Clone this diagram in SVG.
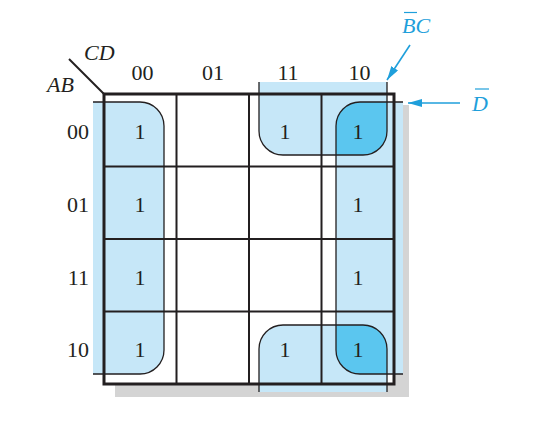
<svg xmlns="http://www.w3.org/2000/svg" width="537" height="421" viewBox="0 0 537 421">
  <style>
    .num { font-family: "Liberation Serif", "Times New Roman", serif; font-size: 22px; fill: #231f20; }
    .var { font-family: "Liberation Serif", "Times New Roman", serif; font-size: 22px; font-style: italic; fill: #231f20; }
    .blue { font-family: "Liberation Serif", "Times New Roman", serif; font-size: 22px; font-style: italic; fill: #1f9fdb; }
    .fill { fill: #c6e7f8; stroke: none; }
    .outline { fill: none; stroke: #231f20; stroke-width: 1.3; }
    .grid { stroke: #231f20; stroke-width: 2; }
    .border { fill: none; stroke: #231f20; stroke-width: 3; }
    .arrow { stroke: #1f9fdb; stroke-width: 1.6; fill: none; }
  </style>
  <defs>
    <marker id="ah" viewBox="0 0 14 8" refX="14" refY="4" markerWidth="14" markerHeight="8" markerUnits="userSpaceOnUse" orient="auto">
      <path d="M0 0 L14 4 L0 8 Z" fill="#1f9fdb"/>
    </marker>
    <path id="pLeft" d="M93 102 H140 A24 24 0 0 1 164 126 V350 A24 24 0 0 1 140 374 H93"/>
    <path id="pRight" d="M403 102 H360 A24 24 0 0 0 336 126 V350 A24 24 0 0 0 360 374 H403"/>
    <path id="pTop" d="M259 82 V131 A24 24 0 0 0 283 155 H363 A24 24 0 0 0 387 131 V82"/>
    <path id="pBot" d="M259 392 V349 A24 24 0 0 1 283 325 H363 A24 24 0 0 1 387 349 V392"/>
    <clipPath id="clipBC">
      <use href="#pTop"/>
      <use href="#pBot"/>
    </clipPath>
  </defs>

  <g id="shadow">
    <rect x="115" y="105" width="294" height="292" fill="#d4d4d4"/>
    <rect x="104" y="94" width="290" height="290" fill="#ffffff"/>
  </g>

  <g id="loop-Dbar-left">
    <use href="#pLeft" class="fill"/>
  </g>
  <g id="loop-Dbar-right">
    <use href="#pRight" class="fill"/>
  </g>
  <g id="loop-BbarC">
    <use href="#pTop" class="fill"/>
    <use href="#pBot" class="fill"/>
  </g>
  <g id="overlap">
    <use href="#pRight" fill="#5bc6ef" clip-path="url(#clipBC)"/>
  </g>

  <g id="kmap-grid">
    <line class="grid" x1="176.5" y1="94" x2="176.5" y2="384"/>
    <line class="grid" x1="249" y1="94" x2="249" y2="384"/>
    <line class="grid" x1="321.5" y1="94" x2="321.5" y2="384"/>
    <line class="grid" x1="104" y1="166.5" x2="394" y2="166.5"/>
    <line class="grid" x1="104" y1="239" x2="394" y2="239"/>
    <line class="grid" x1="104" y1="311.5" x2="394" y2="311.5"/>
    <rect class="border" x="104" y="94" width="290" height="290"/>
    <line x1="69" y1="59" x2="104" y2="94" stroke="#231f20" stroke-width="2"/>
  </g>

  <g id="loop-outlines">
    <use href="#pLeft" class="outline"/>
    <use href="#pRight" class="outline"/>
    <use href="#pTop" class="outline"/>
    <use href="#pBot" class="outline"/>
  </g>

  <g id="axis-labels">
    <text class="var" x="84" y="60">CD</text>
    <text class="var" x="47" y="92">AB</text>
    <text class="num" x="142.5" y="80" text-anchor="middle">00</text>
    <text class="num" x="213" y="80" text-anchor="middle">01</text>
    <text class="num" x="288" y="80" text-anchor="middle">11</text>
    <text class="num" x="359.5" y="80" text-anchor="middle">10</text>
    <text class="num" x="89" y="139" text-anchor="end">00</text>
    <text class="num" x="89" y="212" text-anchor="end">01</text>
    <text class="num" x="89" y="285" text-anchor="end">11</text>
    <text class="num" x="89" y="357" text-anchor="end">10</text>
  </g>

  <g id="cells">
    <text class="num" x="140" y="139" text-anchor="middle">1</text>
    <text class="num" x="140" y="212" text-anchor="middle">1</text>
    <text class="num" x="140" y="285" text-anchor="middle">1</text>
    <text class="num" x="140" y="357" text-anchor="middle">1</text>
    <text class="num" x="285" y="139" text-anchor="middle">1</text>
    <text class="num" x="358" y="139" text-anchor="middle">1</text>
    <text class="num" x="358" y="212" text-anchor="middle">1</text>
    <text class="num" x="358" y="285" text-anchor="middle">1</text>
    <text class="num" x="285" y="357" text-anchor="middle">1</text>
    <text class="num" x="358" y="357" text-anchor="middle">1</text>
  </g>

  <g id="connectors">
    <line class="arrow" x1="410" y1="45" x2="387" y2="80" marker-end="url(#ah)"/>
    <line class="arrow" x1="460" y1="103" x2="408" y2="103" marker-end="url(#ah)"/>
  </g>

  <g id="label-BbarC">
    <text class="blue" x="402" y="33">BC</text>
    <line x1="404" y1="12.5" x2="417" y2="12.5" stroke="#1f9fdb" stroke-width="1.2"/>
  </g>
  <g id="label-Dbar">
    <text class="blue" x="472" y="111">D</text>
    <line x1="475" y1="89" x2="489" y2="89" stroke="#1f9fdb" stroke-width="1.2"/>
  </g>
</svg>
